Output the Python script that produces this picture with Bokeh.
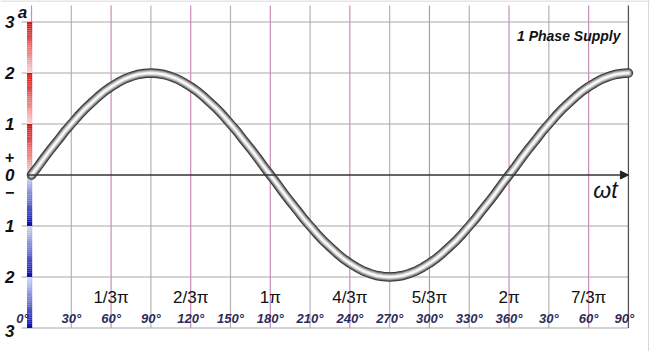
import numpy as np
from bokeh.plotting import figure
from bokeh.models import Arrow, NormalHead, Range1d
from bokeh.core.properties import value
from bokeh.embed import file_html
from bokeh.resources import INLINE

# ---------------- data ----------------
angles_deg = list(range(0, 451, 5))
amplitude = [
    0, 0.17, 0.35, 0.52, 0.68, 0.85, 1.0, 1.15, 1.29, 1.41, 1.53, 1.64, 1.73, 1.81, 1.88, 1.93, 1.97, 1.99, 2.0,
    1.99, 1.97, 1.93, 1.88, 1.81, 1.73, 1.64, 1.53, 1.41, 1.29, 1.15, 1.0, 0.85, 0.68, 0.52, 0.35, 0.17, 0,
    -0.17, -0.35, -0.52, -0.68, -0.85, -1.0, -1.15, -1.29, -1.41, -1.53, -1.64, -1.73, -1.81, -1.88, -1.93, -1.97, -1.99, -2.0,
    -1.99, -1.97, -1.93, -1.88, -1.81, -1.73, -1.64, -1.53, -1.41, -1.29, -1.15, -1.0, -0.85, -0.68, -0.52, -0.35, -0.17, 0,
    0.17, 0.35, 0.52, 0.68, 0.85, 1.0, 1.15, 1.29, 1.41, 1.53, 1.64, 1.73, 1.81, 1.88, 1.93, 1.97, 1.99, 2.0,
]

degree_ticks = list(range(0, 451, 30))
degree_labels = ["0°", "30°", "60°", "90°", "120°", "150°", "180°", "210°", "240°",
                 "270°", "300°", "330°", "360°", "30°", "60°", "90°"]
pi_ticks = [60, 120, 180, 240, 300, 360, 420]
pi_labels = ["1/3π", "2/3π", "1π", "4/3π", "5/3π", "2π", "7/3π"]
y_ticks = [3, 2, 1, 0, -1, -2, -3]
y_labels = ["3", "2", "1", "0", "1", "2", "3"]
sign_ticks = [0.36, -0.34]
sign_labels = ["+", "−"]
title_text = "1 Phase Supply"

# ---------------- figure ----------------
PX_PER_DEG = 1.3265
X0 = 31.0
PX_PER_UNIT = 51.0
Y0 = 174.5
W, H = 650, 351

p = figure(width=W, height=H, output_backend="svg", toolbar_location=None,
           x_axis_type=None, y_axis_type=None, min_border=0,
           x_range=Range1d(-X0 / PX_PER_DEG, (W - X0) / PX_PER_DEG),
           y_range=Range1d(-(H - Y0) / PX_PER_UNIT, Y0 / PX_PER_UNIT))
p.grid.visible = False
p.outline_line_color = None
p.background_fill_color = "white"
p.border_fill_color = "white"

top_v = (Y0 - 5) / PX_PER_UNIT
x_left = -7.5

# vertical grid lines
for d in degree_ticks[:-1]:
    col = "#c98cb8" if d % 60 == 0 else "#b4b4b4"
    p.segment(x0=d, y0=min(y_ticks), x1=d, y1=top_v, line_color=col, line_width=1.2)

# horizontal grid lines
for v in y_ticks:
    if v != 0:
        p.segment(x0=x_left, y0=v, x1=max(degree_ticks), y1=v, line_color="#a8a8a8", line_width=1.2)

# right frame line
p.segment(x0=max(degree_ticks), y0=min(y_ticks), x1=max(degree_ticks), y1=top_v,
          line_color="#555555", line_width=1.3)

# image border (top / right)
p.segment(x0=-X0 / PX_PER_DEG, y0=(Y0 - 0.5) / PX_PER_UNIT, x1=(W - X0) / PX_PER_DEG,
          y1=(Y0 - 0.5) / PX_PER_UNIT, line_color="#cccccc", line_width=1)
p.segment(x0=(W - 2 - X0) / PX_PER_DEG, y0=-(H - Y0) / PX_PER_UNIT, x1=(W - 2 - X0) / PX_PER_DEG,
          y1=Y0 / PX_PER_UNIT, line_color="#d8d8d8", line_width=1)

# gradient bar on the left
def mix(c1, c2, t):
    a = np.array([int(c1[i:i + 2], 16) for i in (1, 3, 5)], float)
    b = np.array([int(c2[i:i + 2], 16) for i in (1, 3, 5)], float)
    c = a + (b - a) * t
    return "#%02x%02x%02x" % tuple(int(round(x)) for x in c)

n = 24
bl, br = -3.4, 0.5
tops, bots, cols = [], [], []
for k in (0, 1, 2):
    top = k + 1
    for i in range(n):
        tops.append(top - i / n)
        bots.append(top - (i + 1) / n)
        cols.append(mix("#d41818", "#fbd0d0", i / (n - 1)))
for k in (0, -1, -2):
    top = k
    for i in range(n):
        tops.append(top - i / n)
        bots.append(top - (i + 1) / n)
        cols.append(mix("#cdd5f4", "#0a12a8", i / (n - 1)))
p.quad(left=bl, right=br, top=tops, bottom=bots, fill_color=cols, line_color=None)

# time axis with arrow
p.add_layout(Arrow(end=NormalHead(size=8, fill_color="#222222", line_color="#222222"),
                   x_start=-3, y_start=0, x_end=max(degree_ticks), y_end=0,
                   line_color="#333333", line_width=1.4))

# the sine curve (tube look)
for w, c in [(9.5, "#333333"), (8, "#5a5a5a"), (6.5, "#8c8c8c"), (5, "#bdbdbd"), (3.2, "#e2e2e2"), (1.6, "#fcfcfc")]:
    p.line(angles_deg, amplitude, line_width=w, line_color=c, line_cap="round", line_join="round")

font = value("Liberation Sans")

# y labels
p.text(x=[-16.5] * len(y_ticks), y=y_ticks, text=y_labels, text_font=font,
       text_font_size="17px", text_font_style="bold italic", text_color="#111111",
       text_align="center", text_baseline="middle", y_offset=[0, 0, 0, 0, 0, 0, 3])
p.text(x=[-16.5] * len(sign_ticks), y=sign_ticks, text=sign_labels, text_font=font,
       text_font_size="16px", text_font_style="bold", text_color="#111111",
       text_align="center", text_baseline="middle")

# 'a' label
p.text(x=[-6.8], y=[(Y0 - 12) / PX_PER_UNIT], text=["a"], text_font=font,
       text_font_size="17px", text_font_style="bold italic", text_color="#111111",
       text_align="center", text_baseline="middle")

# degree labels
deg_y = -(318 - Y0) / PX_PER_UNIT
xoffs = [-9] + [0] * (len(degree_ticks) - 2) + [-4]
p.text(x=degree_ticks, y=[deg_y] * len(degree_ticks), text=degree_labels, x_offset=xoffs,
       text_font=font, text_font_size="13px", text_font_style="bold italic",
       text_color="#2c2c5c", text_align="center", text_baseline="middle")

# pi labels
pi_y = -(297 - Y0) / PX_PER_UNIT
p.text(x=pi_ticks, y=[pi_y] * len(pi_ticks), text=pi_labels, text_font=font,
       text_font_size="17px", text_color="#111111", text_align="center",
       text_baseline="middle")

# title
p.text(x=[(620 - X0) / PX_PER_DEG], y=[(Y0 - 35) / PX_PER_UNIT], text=[title_text],
       text_font=font, text_font_size="14px", text_font_style="bold italic",
       text_color="#111111", text_align="right", text_baseline="middle")

# omega t label
p.text(x=[(605 - X0) / PX_PER_DEG], y=[-(189 - Y0) / PX_PER_UNIT], text=["ωt"],
       text_font=font, text_font_size="23px", text_font_style="italic",
       text_color="#111111", text_align="center", text_baseline="middle")

open("out.html", "w").write(file_html(p, INLINE))
